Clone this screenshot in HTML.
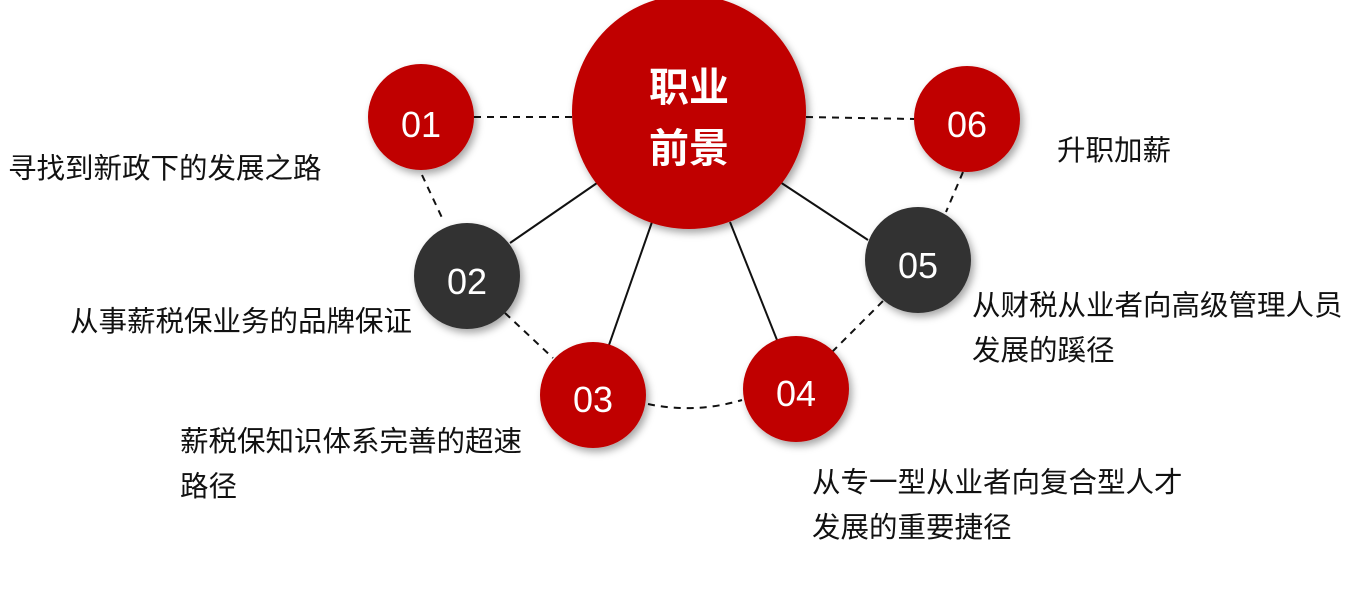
<!DOCTYPE html>
<html><head><meta charset="utf-8"><style>
body{margin:0;width:1367px;height:610px;background:#fff;overflow:hidden;position:relative;font-family:"Liberation Sans","Noto Sans CJK SC",sans-serif}
.t{position:absolute;font-size:28.5px;color:#111;line-height:45px;white-space:nowrap}
</style></head><body>
<svg width="1367" height="610" style="position:absolute;left:0;top:0">
<defs><filter id="s" x="-30%" y="-30%" width="160%" height="160%"><feDropShadow dx="3" dy="4" stdDeviation="4" flood-color="#000" flood-opacity="0.35"/></filter></defs>
<g stroke="#111" stroke-width="2" stroke-dasharray="7,6" fill="none">
<line x1="474" y1="117" x2="572" y2="117"/>
<line x1="806" y1="117" x2="914" y2="119"/>
<line x1="422" y1="175" x2="444" y2="222"/>
<line x1="963" y1="172" x2="946" y2="212"/>
<line x1="505" y1="313" x2="553" y2="358"/>
<path d="M648 404 Q695 414 742 400"/>
<line x1="832" y1="352" x2="884" y2="300"/>
</g>
<g stroke="#111" stroke-width="2">
<line x1="597" y1="183" x2="510" y2="243"/>
<line x1="652" y1="222" x2="609" y2="345"/>
<line x1="730" y1="222" x2="777" y2="340"/>
<line x1="780" y1="182" x2="868" y2="240"/>
</g>
<g filter="url(#s)">
<circle cx="689" cy="112" r="117" fill="#c00000"/>
<circle cx="421" cy="117" r="53" fill="#c00000"/>
<circle cx="967" cy="119" r="53" fill="#c00000"/>
<circle cx="467" cy="276" r="53" fill="#333"/>
<circle cx="918" cy="260" r="53" fill="#333"/>
<circle cx="593" cy="395" r="53" fill="#c00000"/>
<circle cx="796" cy="389" r="53" fill="#c00000"/>
</g>
<g fill="#fff" font-size="36" text-anchor="middle" font-family="Liberation Sans, sans-serif">
<text x="421" y="137">01</text><text x="967" y="137">06</text>
<text x="467" y="294">02</text><text x="918" y="278">05</text>
<text x="593" y="412">03</text><text x="796" y="406">04</text>
</g>
<g fill="#fff" font-size="40" font-weight="bold" text-anchor="middle" font-family="Liberation Sans, Noto Sans CJK SC, sans-serif">
<text x="689" y="101">职业</text><text x="689" y="162">前景</text>
</g>
</svg>
<div class="t" style="left:8px;top:147px">寻找到新政下的发展之路</div>
<div class="t" style="left:1057px;top:129px">升职加薪</div>
<div class="t" style="left:70px;top:300px">从事薪税保业务的品牌保证</div>
<div class="t" style="left:972px;top:284px">从财税从业者向高级管理人员<br>发展的蹊径</div>
<div class="t" style="left:180px;top:420px">薪税保知识体系完善的超速<br>路径</div>
<div class="t" style="left:812px;top:461px">从专一型从业者向复合型人才<br>发展的重要捷径</div>
</body></html>
